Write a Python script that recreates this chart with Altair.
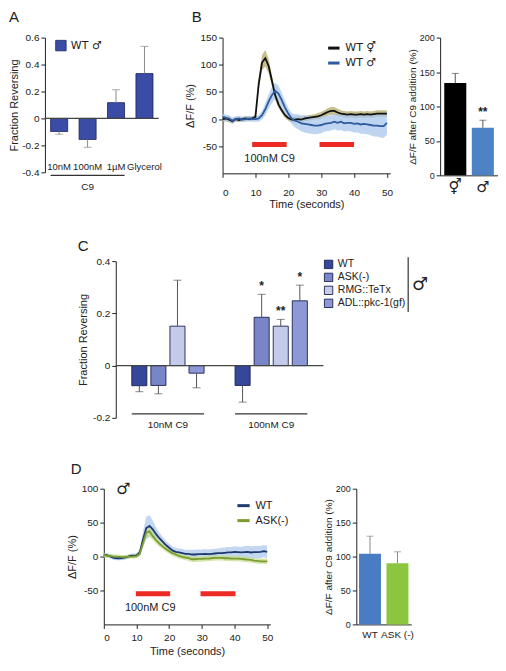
import altair as alt
import pandas as pd

FONT = "Liberation Sans"
SYM = "DejaVu Sans"

# ---------------- Panel A ----------------
a_conc = ["10nM", "100nM", "1µM", "Glycerol"]
a_mean = [-0.097, -0.156, 0.117, 0.333]
a_err = [-0.117, -0.214, 0.213, 0.535]
a_bracket_from = "10nM"
a_bracket_to = "1µM"
a_bracket_label = "C9"

# ---------------- Panel B ----------------
time_s = list(range(51))
b_herm = [0, 1, -1, -4, 0, -2, 0, 1, 0, 1,
          4, 65, 104, 112, 98, 71, 44, 27, 16, 7,
          2, -1, -1, 0, -1, 1, 2, 3, 4, 5,
          7, 10, 13, 15, 15, 12, 10, 9, 8, 9,
          8, 8, 9, 8, 9, 8, 9, 10, 10, 10, 10]
b_herm_sem = [5, 5, 5, 5, 4, 4, 4, 4, 4, 4,
              4, 10, 14, 15, 13, 10, 8, 6, 5, 5,
              5, 5, 5, 5, 5, 5, 5, 5, 5, 6,
              6, 6, 7, 7, 7, 7, 6, 6, 6, 6,
              6, 6, 6, 6, 6, 6, 6, 6, 6, 6, 6]
b_male = [4, 2, 1, -3, 0, 1, -1, 0, 1, 0,
          0, 1, 7, 18, 32, 44, 52, 47, 35, 21,
          10, 1, -3, -5, -8, -9, -10, -11, -12, -12,
          -11, -9, -8, -7, -5, -7, -5, -8, -7, -7,
          -9, -8, -10, -9, -10, -11, -12, -12, -13, -13, -7]
b_male_sem = [7, 6, 6, 6, 5, 5, 5, 5, 5, 5,
              5, 6, 8, 11, 13, 15, 15, 15, 14, 12,
              10, 10, 12, 14, 15, 16, 16, 16, 16, 15,
              15, 14, 14, 14, 14, 14, 15, 15, 15, 16,
              16, 17, 17, 18, 18, 19, 20, 20, 21, 22, 22]
b_series = ["WT ⚥", "WT ♂"]
b_stim_on = [9, 29.5]
b_stim_off = [19.5, 40]
b_stim_level = -47
b_sex = ["⚥", "♂"]
b_bar_mean = [134, 69]
b_bar_err = [148, 80]
b_bar_sig = ["", "**"]

# ---------------- Panel C ----------------
c_groups = ["10nM C9", "100nM C9"]
c_strains = ["WT", "ASK(-)", "RMG::TeTx", "ADL::pkc-1(gf)"]
c_mean_10 = [-0.077, -0.076, 0.151, -0.029]
c_err_10 = [-0.100, -0.108, 0.327, -0.085]
c_mean_100 = [-0.076, 0.185, 0.151, 0.248]
c_err_100 = [-0.140, 0.273, 0.177, 0.308]
c_sig_10 = ["", "", "", ""]
c_sig_100 = ["", "*", "**", "*"]
c_colors = ["#34479b", "#7885c6", "#c3caea", "#8c99d6"]

# ---------------- Panel D ----------------
d_wt = [2, 2, 0, -2, -2.5, -2.5, -2, -1, 1, 1.5,
        1.5, 6, 25, 42, 45, 40, 33, 27, 22, 17,
        13, 9, 7, 6, 5, 4, 4, 3, 3, 3.5,
        3.5, 4, 3.5, 4, 4.5, 5, 5, 5.5, 6, 6,
        7, 6.5, 6, 6.5, 7, 6, 6.5, 6.5, 7, 8, 7]
d_wt_sem = [3, 3, 3, 3, 3, 3, 3, 3, 3, 3,
            3, 5, 12, 17, 16, 13, 10, 8, 7, 6,
            6, 6, 6, 6, 6, 6, 6, 7, 7, 7,
            7, 7, 7, 7, 7, 7, 8, 8, 8, 8,
            8, 8, 8, 9, 9, 9, 9, 9, 9, 9, 9]
d_ask = [2, 1, 1, 0, 0, -0.5, -1, -0.5, 0, 0,
         0.5, 4, 20, 35, 37, 30, 24, 19, 15, 11,
         8, 5, 3, 1, -0.5, -1.5, -2.5, -4, -4, -3.5,
         -3.5, -3, -3, -2.5, -2, -2, -2, -2.5, -2.5, -3,
         -3, -3, -3.5, -4, -4.5, -5, -6, -6.5, -7, -7, -7]
d_ask_sem = [3, 3, 3, 3, 3, 3, 3, 3, 3, 3,
             3, 4, 6, 7, 7, 6, 5, 5, 4, 4,
             4, 4, 4, 4, 4, 4, 4, 4, 4, 4,
             4, 4, 4, 4, 4, 4, 4, 4, 4, 4,
             4, 4, 4, 4, 4, 4, 4, 4, 4, 4, 4]
d_series = ["WT", "ASK(-)"]
d_stim_on = [9.8, 29.6]
d_stim_off = [20.3, 40.3]
d_stim_level = -55
d_strain = ["WT", "ASK (-)"]
d_bar_mean = [104, 90]
d_bar_err = [130, 107]

RED = "#ee2a24"
FRAC_LABEL = "datum.value == 0 ? '0' : replace(format(datum.value, '.1f'), '\u2212', '-')"
INT_LABEL = "replace(datum.label, '\u2212', '-')"


def letter(txt, x, y):
    return alt.Chart(pd.DataFrame({"s": [txt]})).mark_text(
        fontSize=15, font=FONT, align="left", baseline="middle").encode(
        x=alt.value(x), y=alt.value(y), text="s:N")


def spacer(w):
    return alt.Chart(pd.DataFrame({"a": [0]})).mark_rule(opacity=0).encode(
        x=alt.value(0), y=alt.value(0), y2=alt.value(1)
    ).properties(width=w, height=10)


def indep(c):
    return c.resolve_scale(color="independent", fill="independent").resolve_legend(
        color="independent", fill="independent")


def yaxis(vals, expr, **kw):
    return alt.Axis(values=vals, tickCount=len(vals) + 2, labelExpr=expr, **kw)


# ---------- A ----------
a_df = pd.DataFrame({"conc": a_conc, "mean": a_mean, "err": a_err, "series": "WT ♂",
                     "lab_y": [-0.363] * 4})
a_xs = alt.Scale(domain=a_conc, paddingInner=0.4, paddingOuter=0.2)
a_x = alt.X("conc:N", title=None, scale=a_xs, axis=None)
a_ys = alt.Scale(domain=[-0.4, 0.6], nice=False)
a_y = alt.Y("mean:Q", scale=a_ys, title="Fraction Reversing",
            axis=yaxis([-0.4, -0.2, 0, 0.2, 0.4, 0.6], FRAC_LABEL, titlePadding=2))
a_base = alt.Chart(a_df)
a_bars = a_base.mark_bar(stroke="#1c2460", strokeWidth=0.8).encode(
    x=a_x, y=a_y,
    color=alt.Color("series:N", scale=alt.Scale(range=["#3a4ca6"]),
                    legend=alt.Legend(title=None, orient="none", legendX=10, legendY=2,
                                      symbolType="square", symbolSize=110, labelFontSize=11,
                                      labelFont=SYM,
                                      symbolStrokeColor="#1c2460", symbolStrokeWidth=0.8)))
a_err_rule = a_base.mark_rule(color="#8a8a8a").encode(x=a_x, y=a_y, y2="err:Q")
a_cap = a_base.mark_tick(color="#8a8a8a", size=8, thickness=1).encode(
    x=a_x, y=alt.Y("err:Q", scale=a_ys))
a_lab = a_base.mark_text(fontSize=9.5, font=FONT, align="center").encode(
    x=a_x, y=alt.Y("lab_y:Q", scale=a_ys), text="conc:N")
a_zero = alt.Chart(pd.DataFrame({"z": [0]})).mark_rule(color="#444", strokeWidth=1.2).encode(
    y=alt.Y("z:Q", scale=a_ys))
a_brk_df = pd.DataFrame({"c_from": [a_bracket_from], "c_to": [a_bracket_to],
                         "lvl": [-0.423]})
a_brk = alt.Chart(a_brk_df).mark_rule(color="#333", strokeWidth=1.2).encode(
    x=alt.X("c_from:N", scale=a_xs, bandPosition=0),
    x2=alt.X2("c_to:N", bandPosition=1),
    y=alt.Y("lvl:Q", scale=a_ys))
a_c9 = alt.Chart(pd.DataFrame({"conc": [a_conc[1]], "tl": [-0.51], "txt": [a_bracket_label]})).mark_text(
    fontSize=10, font=FONT).encode(
    x=alt.X("conc:N", scale=a_xs), y=alt.Y("tl:Q", scale=a_ys), text="txt:N")
chart_a = alt.layer(a_bars, a_err_rule, a_cap, a_lab, a_zero, a_brk, a_c9,
                    letter("A", -36, -21)).properties(width=114, height=135)

# ---------- B left ----------
rows = []
for i, t in enumerate(time_s):
    rows.append({"t": t, "series": b_series[0], "band": "h", "v": b_herm[i],
                 "lo": b_herm[i] - b_herm_sem[i], "hi": b_herm[i] + b_herm_sem[i]})
    rows.append({"t": t, "series": b_series[1], "band": "m", "v": b_male[i],
                 "lo": b_male[i] - b_male_sem[i], "hi": b_male[i] + b_male_sem[i]})
b_df = pd.DataFrame(rows)
bx = alt.Scale(domain=[0, 51], nice=False)
bys = alt.Scale(domain=[-100, 150], nice=False)
b_xax = alt.X("t:Q", scale=bx, title="Time (seconds)",
              axis=alt.Axis(values=[0, 10, 20, 30, 40, 50], tickCount=8, labelPadding=10, titlePadding=1))
b_yax = alt.Y("v:Q", scale=bys, title="ΔF/F (%)", axis=yaxis([-50, 0, 50, 100, 150], INT_LABEL))
b_band = alt.Chart(b_df).mark_area(opacity=0.75).encode(
    x=b_xax, y=alt.Y("lo:Q", scale=bys), y2="hi:Q",
    fill=alt.Fill("band:N", scale=alt.Scale(domain=["h", "m"], range=["#b3a866", "#a9c6ec"]),
                  legend=None))
b_line = alt.Chart(b_df).mark_line(strokeWidth=1.8).encode(
    x=b_xax, y=b_yax,
    color=alt.Color("series:N", sort=b_series,
                    scale=alt.Scale(domain=b_series, range=["#111111", "#2d5c9e"]),
                    legend=alt.Legend(title=None, orient="none", legendX=104, legendY=3,
                                      symbolType="stroke", symbolStrokeWidth=3, symbolSize=130,
                                      labelFontSize=11, labelFont=SYM, rowPadding=1)),
    order="t:Q")
b_stim_df = pd.DataFrame({"on": b_stim_on, "off": b_stim_off, "lvl": [b_stim_level] * 2})
b_stim = alt.Chart(b_stim_df).mark_rule(color=RED, strokeWidth=5).encode(
    x=alt.X("on:Q", scale=bx), x2="off:Q", y=alt.Y("lvl:Q", scale=bys))
b_lab = alt.Chart(pd.DataFrame({"t": [14.3], "y": [-73], "txt": ["100nM C9"]})).mark_text(
    fontSize=11, font=FONT).encode(x=alt.X("t:Q", scale=bx), y=alt.Y("y:Q", scale=bys), text="txt:N")
chart_bl = alt.layer(b_band, b_line, b_stim, b_lab, letter("B", -31, -21)).properties(
    width=168, height=136)

# ---------- B right ----------
br_df = pd.DataFrame({"sex": b_sex, "mean": b_bar_mean, "err": b_bar_err, "sig": b_bar_sig})
br_xs = alt.Scale(domain=b_sex, paddingInner=0.2, paddingOuter=0.15)
br_x = alt.X("sex:N", title=None, scale=br_xs,
             axis=alt.Axis(labelAngle=0, labelFontSize=15, labelFont=SYM, ticks=False, labelPadding=4))
br_ys = alt.Scale(domain=[0, 200], nice=False)
br_y = alt.Y("mean:Q", scale=br_ys, title="ΔF/F after C9 addition (%)",
             axis=yaxis([0, 50, 100, 150, 200], INT_LABEL, titleFontSize=10, labelFontSize=9,
                        titlePadding=2))
br_bars = alt.Chart(br_df).mark_bar().encode(
    x=br_x, y=br_y,
    color=alt.Color("sex:N", scale=alt.Scale(domain=b_sex, range=["#000000", "#4d82c4"]),
                    legend=None))
br_err = alt.Chart(br_df).mark_rule(color="#555").encode(x=br_x, y=br_y, y2="err:Q")
br_cap = alt.Chart(br_df).mark_tick(color="#555", size=7, thickness=1).encode(
    x=br_x, y=alt.Y("err:Q", scale=br_ys))
br_sig = alt.Chart(br_df).mark_text(fontSize=12, font=FONT, dy=-8, fontWeight="bold").encode(
    x=br_x, y=alt.Y("err:Q", scale=br_ys), text="sig:N")
chart_br = alt.layer(br_bars, br_err, br_cap, br_sig).properties(width=58, height=138)

# ---------- C ----------
c_rows = []
for gi, (means, errs, sigs) in enumerate([(c_mean_10, c_err_10, c_sig_10),
                                          (c_mean_100, c_err_100, c_sig_100)]):
    for si, s in enumerate(c_strains):
        c_rows.append({"group": c_groups[gi], "strain": s, "mean": means[si],
                       "err": errs[si], "sig": sigs[si]})
c_df = pd.DataFrame(c_rows)
c_xs = alt.Scale(domain=c_groups, paddingInner=0.3, paddingOuter=0.155)
c_x = alt.X("group:N", title=None, axis=None, scale=c_xs)
c_xo = alt.XOffset("strain:N", scale=alt.Scale(domain=c_strains, paddingInner=0.21, paddingOuter=0))
c_ys = alt.Scale(domain=[-0.2, 0.4], nice=False)
c_y = alt.Y("mean:Q", scale=c_ys, title="Fraction Reversing",
            axis=yaxis([-0.2, 0, 0.2, 0.4], FRAC_LABEL))
c_bars = alt.Chart(c_df).mark_bar(stroke="#1b2350", strokeWidth=0.9).encode(
    x=c_x, xOffset=c_xo, y=c_y,
    color=alt.Color("strain:N",
                    scale=alt.Scale(domain=c_strains, range=c_colors),
                    legend=alt.Legend(title=None, orient="none", legendX=208, legendY=-2,
                                      symbolType="square", symbolSize=70, labelFontSize=10.5,
                                      rowPadding=0, symbolStrokeColor="#1b2350",
                                      symbolStrokeWidth=0.9)))
c_err = alt.Chart(c_df).mark_rule(color="#555").encode(
    x=c_x, xOffset=c_xo, y=c_y, y2="err:Q")
c_cap = alt.Chart(c_df).mark_tick(color="#555", size=8, thickness=1).encode(
    x=c_x, xOffset=c_xo, y=alt.Y("err:Q", scale=c_ys))
c_sig = alt.Chart(c_df).mark_text(fontSize=12, font=FONT, dy=-8, fontWeight="bold").encode(
    x=c_x, xOffset=c_xo, y=alt.Y("err:Q", scale=c_ys), text="sig:N")
c_zero = alt.Chart(pd.DataFrame({"z": [0]})).mark_rule(color="#444", strokeWidth=1.2).encode(
    y=alt.Y("z:Q", scale=c_ys))
c_grp_df = pd.DataFrame({"group": c_groups, "lo": [-0.182] * 2, "hi": [-0.187] * 2, "tl": [-0.228] * 2})
c_brk = alt.Chart(c_grp_df).mark_bar(color="#333").encode(
    x=alt.X("group:N", scale=c_xs), y=alt.Y("lo:Q", scale=c_ys), y2="hi:Q")
c_glab = alt.Chart(c_grp_df).mark_text(fontSize=10, font=FONT).encode(
    x=alt.X("group:N", scale=c_xs), y=alt.Y("tl:Q", scale=c_ys), text="group:N")
c_vline = alt.Chart(pd.DataFrame({"a": [0]})).mark_rule(color="#333", strokeWidth=1.2).encode(
    x=alt.value(293), y=alt.value(-4), y2=alt.value(51))
c_male = alt.Chart(pd.DataFrame({"s": ["♂"]})).mark_text(fontSize=18, font=SYM).encode(
    x=alt.value(305), y=alt.value(24), text="s:N")
chart_c = alt.layer(c_bars, c_err, c_cap, c_sig, c_zero, c_brk, c_glab, c_vline, c_male,
                    letter("C", -38, -15)).properties(width=208, height=157)

# ---------- D left ----------
rows = []
for i, t in enumerate(time_s):
    rows.append({"t": t, "series": d_series[0], "band": "w", "v": d_wt[i],
                 "lo": d_wt[i] - d_wt_sem[i], "hi": d_wt[i] + d_wt_sem[i]})
    rows.append({"t": t, "series": d_series[1], "band": "a", "v": d_ask[i],
                 "lo": d_ask[i] - d_ask_sem[i], "hi": d_ask[i] + d_ask_sem[i]})
d_df = pd.DataFrame(rows)
dx = alt.Scale(domain=[0, 51], nice=False)
dys = alt.Scale(domain=[-100, 100], nice=False)
d_xax = alt.X("t:Q", scale=dx, title="Time (seconds)",
              axis=alt.Axis(values=[0, 10, 20, 30, 40, 50], tickCount=8, labelPadding=4, titlePadding=3))
d_yax = alt.Y("v:Q", scale=dys, title="ΔF/F (%)", axis=yaxis([-50, 0, 50, 100], INT_LABEL))
d_band = alt.Chart(d_df).mark_area(opacity=0.7).encode(
    x=d_xax, y=alt.Y("lo:Q", scale=dys), y2="hi:Q",
    fill=alt.Fill("band:N", scale=alt.Scale(domain=["w", "a"], range=["#a9c6ec", "#c4dc8a"]),
                  legend=None))
d_line = alt.Chart(d_df).mark_line(strokeWidth=1.8).encode(
    x=d_xax, y=d_yax,
    color=alt.Color("series:N", sort=d_series,
                    scale=alt.Scale(domain=d_series, range=["#1e3a6e", "#7a9c2f"]),
                    legend=alt.Legend(title=None, orient="none", legendX=132, legendY=9,
                                      symbolType="stroke", symbolStrokeWidth=3, symbolSize=150,
                                      labelFontSize=11, rowPadding=1)),
    order="t:Q")
d_stim_df = pd.DataFrame({"on": d_stim_on, "off": d_stim_off, "lvl": [d_stim_level] * 2})
d_stim = alt.Chart(d_stim_df).mark_rule(color=RED, strokeWidth=5).encode(
    x=alt.X("on:Q", scale=dx), x2="off:Q", y=alt.Y("lvl:Q", scale=dys))
d_lab = alt.Chart(pd.DataFrame({"t": [14.2], "y": [-76], "txt": ["100nM C9"]})).mark_text(
    fontSize=11, font=FONT).encode(x=alt.X("t:Q", scale=dx), y=alt.Y("y:Q", scale=dys), text="txt:N")
d_male = alt.Chart(pd.DataFrame({"t": [6], "y": [100], "s": ["♂"]})).mark_text(
    fontSize=16, font=SYM).encode(x=alt.X("t:Q", scale=dx), y=alt.Y("y:Q", scale=dys), text="s:N")
chart_dl = alt.layer(d_band, d_line, d_stim, d_lab, d_male, letter("D", -33, -20)).properties(
    width=167, height=136)

# ---------- D right ----------
dr_df = pd.DataFrame({"strain": d_strain, "mean": d_bar_mean, "err": d_bar_err})
dr_xs = alt.Scale(domain=d_strain, paddingInner=0.2, paddingOuter=0.1)
dr_x = alt.X("strain:N", title=None, scale=dr_xs,
             axis=alt.Axis(labelAngle=0, labelFontSize=10, ticks=False, labelPadding=5))
dr_ys = alt.Scale(domain=[0, 200], nice=False)
dr_y = alt.Y("mean:Q", scale=dr_ys, title="ΔF/F after C9 addition (%)",
             axis=yaxis([0, 50, 100, 150, 200], INT_LABEL, titleFontSize=10, labelFontSize=9,
                        titlePadding=2))
dr_bars = alt.Chart(dr_df).mark_bar().encode(
    x=dr_x, y=dr_y,
    color=alt.Color("strain:N",
                    scale=alt.Scale(domain=d_strain, range=["#4a7cc4", "#8cc63f"]), legend=None))
dr_err = alt.Chart(dr_df).mark_rule(color="#888").encode(x=dr_x, y=dr_y, y2="err:Q")
dr_cap = alt.Chart(dr_df).mark_tick(color="#888", size=7, thickness=1).encode(
    x=dr_x, y=alt.Y("err:Q", scale=dr_ys))
chart_dr = alt.layer(dr_bars, dr_err, dr_cap).properties(width=55, height=136)

# ---------- assemble ----------
row1 = indep(alt.hconcat(chart_a, indep(alt.hconcat(chart_bl, chart_br, spacing=13)), spacing=22))
row2 = indep(alt.hconcat(spacer(12), chart_c, spacing=20))
row3 = indep(alt.hconcat(spacer(6), indep(alt.hconcat(chart_dl, chart_dr, spacing=34)), spacing=15))

chart = indep(alt.vconcat(row1, indep(alt.vconcat(row2, row3, spacing=31)), spacing=30)).properties(
    padding={"top": 1, "left": 0, "right": 0, "bottom": 0}
).configure_view(stroke=None).configure_axis(
    labelFont=FONT, titleFont=FONT, labelFontSize=10, titleFontSize=11,
    titleFontWeight="normal", labelColor="#222", titleColor="#222",
    domainColor="#222", tickColor="#222", tickSize=4, grid=False, labelOverlap=False
).configure_legend(labelFont=FONT, labelColor="#222").configure_text(color="#222")

chart.save("out.html", embed_options={"renderer": "svg", "actions": False})
